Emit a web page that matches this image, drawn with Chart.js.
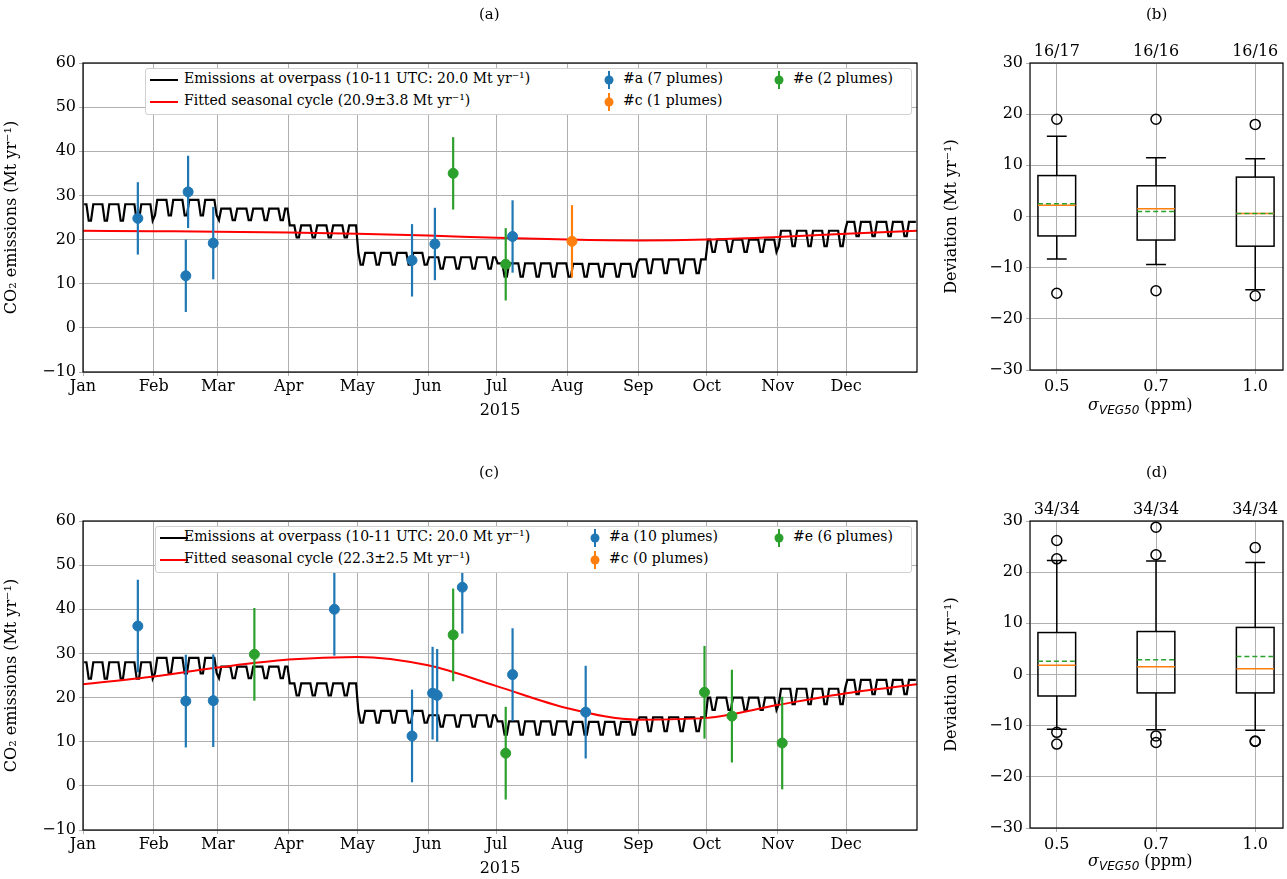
<!DOCTYPE html>
<html lang="en">
<head>
<meta charset="UTF-8">
<title>CO2 emissions</title>
<script src="https://cdn.jsdelivr.net/npm/chart.js@4.4.0/dist/chart.umd.min.js"></script>
<style>
  body { margin: 0; background: #fff; font-family: "DejaVu Serif", serif; }
  #wrap { position: relative; width: 1287px; height: 879px; overflow: hidden; }
  canvas { position: absolute; }
  .t { position: absolute; font-size: 15px; color: #000; white-space: nowrap; }
  .leg { position: absolute; background: #fff; border: 1px solid #d0d0d0; border-radius: 3px; height: 45px; }
  .li { position: absolute; font-size: 14px; white-space: nowrap; }
  .xt { position: absolute; font-size: 16px; white-space: nowrap; }
</style>
</head>
<body>
<div id="wrap">
  <canvas id="ca" style="left:0;top:0;width:925px;height:420px"></canvas>
  <canvas id="cb" style="left:940px;top:0;width:345px;height:420px"></canvas>
  <canvas id="cc" style="left:0;top:458px;width:925px;height:420px"></canvas>
  <canvas id="cd" style="left:940px;top:458px;width:345px;height:420px"></canvas>

  <div class="t" style="left:479px;top:5px">(a)</div>
  <div class="t" style="left:1146px;top:5px">(b)</div>
  <div class="t" style="left:479px;top:463px">(c)</div>
  <div class="t" style="left:1146px;top:463px">(d)</div>
  <div class="xt" style="left:1088px;top:395px"><i>σ</i><sub style="font-family:'DejaVu Sans';font-style:italic;font-size:12px">VEG50</sub> (ppm)</div>
  <div class="xt" style="left:1088px;top:851px"><i>σ</i><sub style="font-family:'DejaVu Sans';font-style:italic;font-size:12px">VEG50</sub> (ppm)</div>

  <div class="leg" style="left:145px;top:68px;width:765px">
    <svg class="li" style="left:4px;top:4px" width="30" height="40"><line x1="0" y1="7" x2="28" y2="7" stroke="#000" stroke-width="2"/><line x1="0" y1="29" x2="28" y2="29" stroke="#ff0000" stroke-width="2"/></svg>
    <div class="li" style="left:38px;top:1px">Emissions at overpass (10-11 UTC: 20.0 Mt yr⁻¹)</div>
    <div class="li" style="left:38px;top:23px">Fitted seasonal cycle (20.9±3.8 Mt yr⁻¹)</div>
    <svg class="li" style="left:455px;top:2px" width="16" height="40"><line x1="8" y1="0" x2="8" y2="18" stroke="#1f77b4" stroke-width="2"/><circle cx="8" cy="9" r="4.5" fill="#1f77b4"/><line x1="8" y1="22" x2="8" y2="40" stroke="#ff7f0e" stroke-width="2"/><circle cx="8" cy="31" r="4.5" fill="#ff7f0e"/></svg>
    <div class="li" style="left:477px;top:1px">#a (7 plumes)</div>
    <div class="li" style="left:477px;top:23px">#c (1 plumes)</div>
    <svg class="li" style="left:625px;top:2px" width="16" height="20"><line x1="8" y1="0" x2="8" y2="18" stroke="#2ca02c" stroke-width="2"/><circle cx="8" cy="9" r="4.5" fill="#2ca02c"/></svg>
    <div class="li" style="left:647px;top:1px">#e (2 plumes)</div>
  </div>

  <div class="leg" style="left:155px;top:526px;width:755px">
    <svg class="li" style="left:4px;top:4px" width="30" height="40"><line x1="0" y1="7" x2="28" y2="7" stroke="#000" stroke-width="2"/><line x1="0" y1="29" x2="28" y2="29" stroke="#ff0000" stroke-width="2"/></svg>
    <div class="li" style="left:28px;top:1px">Emissions at overpass (10-11 UTC: 20.0 Mt yr⁻¹)</div>
    <div class="li" style="left:28px;top:23px">Fitted seasonal cycle (22.3±2.5 Mt yr⁻¹)</div>
    <svg class="li" style="left:431px;top:2px" width="16" height="40"><line x1="8" y1="0" x2="8" y2="18" stroke="#1f77b4" stroke-width="2"/><circle cx="8" cy="9" r="4.5" fill="#1f77b4"/><line x1="8" y1="22" x2="8" y2="40" stroke="#ff7f0e" stroke-width="2"/><circle cx="8" cy="31" r="4.5" fill="#ff7f0e"/></svg>
    <div class="li" style="left:453px;top:1px">#a (10 plumes)</div>
    <div class="li" style="left:453px;top:23px">#c (0 plumes)</div>
    <svg class="li" style="left:615px;top:2px" width="16" height="20"><line x1="8" y1="0" x2="8" y2="18" stroke="#2ca02c" stroke-width="2"/><circle cx="8" cy="9" r="4.5" fill="#2ca02c"/></svg>
    <div class="li" style="left:637px;top:1px">#e (6 plumes)</div>
  </div>
</div>

<script>
// month axis
const monthNames = ["Jan", "Feb", "Mar", "Apr", "May", "Jun", "Jul", "Aug", "Sep", "Oct", "Nov", "Dec"];
const monthStarts = [0, 31, 59, 90, 120, 151, 181, 212, 243, 273, 304, 334];
// emissions at overpass: weekday level and weekend level per month
const monthHigh = [28, 29, 27, 23.2, 17, 16, 14.6, 14.5, 15.5, 20, 22, 24];
const monthLow = [24.3, 25.5, 24.4, 20.5, 14.3, 13.4, 11.6, 11.6, 12.4, 17.2, 18.5, 20.8];
// fitted seasonal cycle, read at month starts (+ end of year)
const fitDays = [0, 31, 59, 90, 120, 151, 181, 212, 243, 273, 304, 334, 365];
const fitA = [22, 21.9, 21.8, 21.6, 21.3, 20.9, 20.4, 20.0, 19.8, 20.0, 20.6, 21.3, 22];
const fitC = [23, 24.8, 26.8, 28.6, 29.2, 27.3, 22.6, 17.6, 15.0, 15.4, 18.3, 21.0, 23];

// plumes: day of year, value, half error
const aA = {day: [24, 45, 46, 57, 144, 154, 188], val: [24.8, 11.8, 30.8, 19.2, 15.3, 19.0, 20.7], err: [8.2, 8.2, 8.2, 8.2, 8.2, 8.2, 8.2]};
const aC = {day: [214], val: [19.6], err: [8.2]};
const aE = {day: [162, 185], val: [35.0, 14.4], err: [8.2, 8.2]};
const cA = {day: [24, 45, 57, 110, 144, 153, 155, 166, 188, 220], val: [36.2, 19.2, 19.3, 40.0, 11.3, 21.0, 20.5, 45.0, 25.2, 16.7], err: [10.5, 10.5, 10.5, 10.5, 10.5, 10.5, 10.5, 10.5, 10.5, 10.5]};
const cE = {day: [75, 162, 185, 272, 284, 306], val: [29.8, 34.2, 7.4, 21.2, 15.8, 9.7], err: [10.5, 10.5, 10.5, 10.5, 10.5, 10.5]};

// box plots
const boxLabels = ["0.5", "0.7", "1.0"];
const bCounts = ["16/17", "16/16", "16/16"];
const bQ1 = [-3.8, -4.6, -5.8], bQ3 = [8.0, 6.0, 7.7], bMed = [2.2, 1.5, 0.6], bMean = [2.5, 1.0, 0.6];
const bLo = [-8.3, -9.4, -14.3], bHi = [15.7, 11.5, 11.3];
const bOut = [[19, -15], [19, -14.5], [18, -15.5]];
const dCounts = ["34/34", "34/34", "34/34"];
const dQ1 = [-4.2, -3.6, -3.6], dQ3 = [8.2, 8.4, 9.2], dMed = [1.8, 1.5, 1.1], dMean = [2.6, 2.9, 3.5];
const dLo = [-10.7, -10.8, -10.9], dHi = [22.3, 22.2, 21.9];
const dOut = [[26.2, 22.6, -11.3, -13.6], [28.8, 23.4, -12.0, -13.3], [24.8, -13.0, -13.1]];

const FONT = "'DejaVu Serif', serif";
const GRID = "#b0b0b0";

// daily emissions line: weekday/weekend level of the month (Jan 1 2015 = Thursday)
function emissionSeries() {
  const pts = [];
  for (let d = 0; d < 365; d++) {
    let m = 0;
    while (m < 11 && d >= monthStarts[m + 1]) m++;
    const dow = (d + 4) % 7; // 0 = Sunday
    const weekend = dow === 6 || dow === 0;
    pts.push({x: d + 0.5, y: weekend ? monthLow[m] : monthHigh[m]});
  }
  return pts;
}

function pts(s) { return s.day.map((d, i) => ({x: d, y: s.val[i], e: s.err[i]})); }

const errorBars = {
  id: 'errorBars',
  afterDatasetDraw(chart, args) {
    if (args.index !== 1) return;
    const ctx = chart.ctx, x = chart.scales.x, y = chart.scales.y;
    ctx.save();
    ctx.lineWidth = 2.2;
    chart.data.datasets.forEach(ds => {
      if (!ds.isPlume) return;
      ctx.strokeStyle = ds.backgroundColor;
      ds.data.forEach(p => {
        const px = x.getPixelForValue(p.x);
        ctx.beginPath();
        ctx.moveTo(px, y.getPixelForValue(p.y - p.e));
        ctx.lineTo(px, y.getPixelForValue(p.y + p.e));
        ctx.stroke();
      });
    });
    ctx.restore();
  }
};

const frame = {
  id: 'frame',
  afterDraw(chart) {
    const a = chart.chartArea, ctx = chart.ctx;
    ctx.save();
    ctx.strokeStyle = "#000";
    ctx.lineWidth = 1.2;
    ctx.strokeRect(a.left, a.top, a.right - a.left, a.bottom - a.top);
    ctx.restore();
  }
};

function timeChart(id, fit, plumes) {
  const ds = [
    {type: 'line', data: emissionSeries(), borderColor: "#000", borderWidth: 2.2, pointRadius: 0, order: 3},
    {type: 'line', data: fitDays.map((d, i) => ({x: d, y: fit[i]})), borderColor: "#ff0000", borderWidth: 2, pointRadius: 0, cubicInterpolationMode: 'monotone', order: 2}
  ];
  plumes.forEach(p => ds.push({type: 'scatter', data: pts(p.s), backgroundColor: p.c, borderColor: p.c, pointRadius: 5, isPlume: true, order: 1}));
  new Chart(id, {
    data: {datasets: ds},
    options: {
      animation: false, responsive: false, devicePixelRatio: 1,
      layout: {padding: {top: 63, right: 8}},
      plugins: {legend: {display: false}, tooltip: {enabled: false}},
      scales: {
        x: {
          type: 'linear', min: 0, max: 365,
          afterBuildTicks: s => { s.ticks = monthStarts.map(v => ({value: v})); },
          afterFit: s => { s.height = 48; },
          ticks: {font: {family: FONT, size: 16}, color: "#000", callback: v => monthNames[monthStarts.indexOf(v)], maxRotation: 0, autoSkip: false, padding: 1},
          grid: {color: GRID, tickLength: 4},
          title: {display: true, text: "2015", font: {family: FONT, size: 16}, color: "#000", padding: 0}
        },
        y: {
          min: -10, max: 60,
          afterFit: s => { s.width = 83; },
          ticks: {stepSize: 10, font: {family: FONT, size: 16}, color: "#000", callback: v => v < 0 ? "\u2212" + (-v) : v},
          grid: {color: GRID, tickLength: 4},
          title: {display: true, text: "CO\u2082 emissions (Mt yr\u207B\u00B9)", font: {family: FONT, size: 16}, color: "#000", padding: 2}
        }
      }
    },
    plugins: [errorBars, frame]
  });
}

function boxChart(id, counts, q1, q3, med, mean, lo, hi, outs) {
  const boxes = {
    id: 'boxes',
    afterDatasetsDraw(chart) {
      const ctx = chart.ctx, x = chart.scales.x, y = chart.scales.y;
      ctx.save();
      for (let i = 0; i < 3; i++) {
        const c = i + 1;
        const l = x.getPixelForValue(c - 0.19), r = x.getPixelForValue(c + 0.19);
        const cl = x.getPixelForValue(c - 0.1), cr = x.getPixelForValue(c + 0.1);
        const cx = x.getPixelForValue(c);
        ctx.strokeStyle = "#000"; ctx.lineWidth = 1.5; ctx.setLineDash([]);
        ctx.strokeRect(l, y.getPixelForValue(q3[i]), r - l, y.getPixelForValue(q1[i]) - y.getPixelForValue(q3[i]));
        ctx.beginPath();
        ctx.moveTo(cx, y.getPixelForValue(q3[i])); ctx.lineTo(cx, y.getPixelForValue(hi[i]));
        ctx.moveTo(cx, y.getPixelForValue(q1[i])); ctx.lineTo(cx, y.getPixelForValue(lo[i]));
        ctx.moveTo(cl, y.getPixelForValue(hi[i])); ctx.lineTo(cr, y.getPixelForValue(hi[i]));
        ctx.moveTo(cl, y.getPixelForValue(lo[i])); ctx.lineTo(cr, y.getPixelForValue(lo[i]));
        ctx.stroke();
        outs[i].forEach(v => { ctx.beginPath(); ctx.arc(cx, y.getPixelForValue(v), 5, 0, 2 * Math.PI); ctx.stroke(); });
        ctx.strokeStyle = "#ff7f0e"; ctx.beginPath();
        ctx.moveTo(l, y.getPixelForValue(med[i])); ctx.lineTo(r, y.getPixelForValue(med[i])); ctx.stroke();
        ctx.strokeStyle = "#2ca02c"; ctx.setLineDash([5, 3]); ctx.beginPath();
        ctx.moveTo(l, y.getPixelForValue(mean[i])); ctx.lineTo(r, y.getPixelForValue(mean[i])); ctx.stroke();
        ctx.setLineDash([]);
        ctx.fillStyle = "#000"; ctx.font = "16px " + FONT; ctx.textAlign = "center"; ctx.textBaseline = "bottom";
        ctx.fillText(counts[i], cx, chart.chartArea.top - 3);
      }
      ctx.restore();
    }
  };
  new Chart(id, {
    type: 'scatter',
    data: {datasets: [{data: []}]},
    options: {
      animation: false, responsive: false, devicePixelRatio: 1,
      layout: {padding: {top: 63, right: 2}},
      plugins: {legend: {display: false}, tooltip: {enabled: false}},
      scales: {
        x: {
          type: 'linear', min: 0.73, max: 3.28,
          afterBuildTicks: s => { s.ticks = [1, 2, 3].map(v => ({value: v})); },
          afterFit: s => { s.height = 50; },
          ticks: {font: {family: FONT, size: 16}, color: "#000", callback: v => boxLabels[v - 1], maxRotation: 0},
          grid: {color: GRID, tickLength: 4}
        },
        y: {
          min: -30, max: 30,
          afterFit: s => { s.width = 90; },
          ticks: {stepSize: 10, font: {family: FONT, size: 16}, color: "#000", callback: v => v < 0 ? "\u2212" + (-v) : v},
          grid: {color: GRID, tickLength: 4},
          title: {display: true, text: "Deviation (Mt yr\u207B\u00B9)", font: {family: FONT, size: 16}, color: "#000", padding: 2}
        }
      }
    },
    plugins: [boxes, frame]
  });
}

timeChart("ca", fitA, [{s: aA, c: "#1f77b4"}, {s: aC, c: "#ff7f0e"}, {s: aE, c: "#2ca02c"}]);
timeChart("cc", fitC, [{s: cA, c: "#1f77b4"}, {s: cE, c: "#2ca02c"}]);
boxChart("cb", bCounts, bQ1, bQ3, bMed, bMean, bLo, bHi, bOut);
boxChart("cd", dCounts, dQ1, dQ3, dMed, dMean, dLo, dHi, dOut);
</script>
</body>
</html>
